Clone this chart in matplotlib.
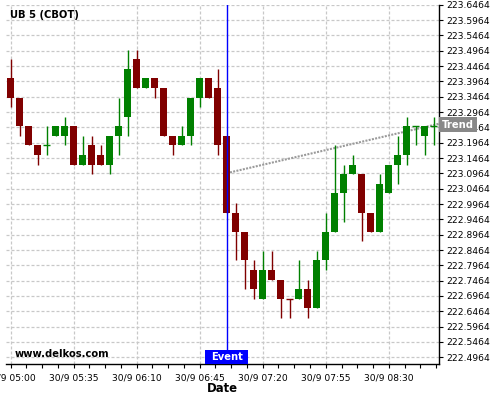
import matplotlib
matplotlib.use("Agg")
import matplotlib.pyplot as plt
import matplotlib.transforms as mtransforms
from matplotlib.patches import Rectangle

# ---------------- data ----------------
title = "UB 5 (CBOT)"
watermark = "www.delkos.com"
bar_minutes = 5          # candle interval, minutes after 30/9 05:00

opens = [223.40625, 223.34375, 223.25, 223.1875, 223.1875, 223.21875, 223.21875, 223.25,
         223.125, 223.1875, 223.15625, 223.125, 223.21875, 223.28125, 223.46875, 223.375,
         223.40625, 223.375, 223.21875, 223.1875, 223.21875, 223.34375, 223.40625, 223.375,
         223.21875, 222.96875, 222.90625, 222.78125, 222.6875, 222.78125, 222.75, 222.6875,
         222.6875, 222.71875, 222.65625, 222.8125, 222.90625, 223.03125, 223.09375, 223.09375,
         222.96875, 222.90625, 223.03125, 223.125, 223.15625, 223.25, 223.21875, 223.25]
highs = [223.46875, 223.34375, 223.25, 223.1875, 223.25, 223.25, 223.28125, 223.25,
         223.21875, 223.21875, 223.1875, 223.21875, 223.34375, 223.5, 223.5, 223.40625,
         223.40625, 223.375, 223.21875, 223.25, 223.34375, 223.40625, 223.40625, 223.4375,
         223.21875, 223.0, 222.90625, 222.8125, 222.84375, 222.84375, 222.75, 222.6875,
         222.8125, 222.75, 222.84375, 222.96875, 223.1875, 223.125, 223.15625, 223.09375,
         222.96875, 223.09375, 223.125, 223.21875, 223.28125, 223.25, 223.25, 223.28125]
lows = [223.3125, 223.21875, 223.1875, 223.125, 223.15625, 223.21875, 223.1875, 223.125,
        223.125, 223.09375, 223.125, 223.09375, 223.15625, 223.21875, 223.375, 223.375,
        223.34375, 223.21875, 223.15625, 223.1875, 223.1875, 223.3125, 223.34375, 223.15625,
        222.96875, 222.8125, 222.71875, 222.6875, 222.6875, 222.75, 222.625, 222.625,
        222.6875, 222.625, 222.65625, 222.78125, 222.90625, 222.9375, 223.09375, 222.875,
        222.90625, 222.90625, 223.03125, 223.0625, 223.125, 223.1875, 223.15625, 223.1875]
closes = [223.34375, 223.25, 223.1875, 223.15625, 223.1875, 223.25, 223.25, 223.125,
          223.15625, 223.125, 223.125, 223.21875, 223.25, 223.4375, 223.375, 223.40625,
          223.375, 223.21875, 223.1875, 223.21875, 223.34375, 223.40625, 223.34375, 223.1875,
          222.96875, 222.90625, 222.8125, 222.71875, 222.78125, 222.75, 222.6875, 222.6875,
          222.71875, 222.65625, 222.8125, 222.90625, 223.03125, 223.09375, 223.125, 222.96875,
          222.90625, 223.0625, 223.125, 223.15625, 223.25, 223.25, 223.25, 223.25]
bearish_doji = [31]      # doji candles drawn in the "down" colour

event_minute = 120       # 07:00
event_label = "Event"
trend_label = "Trend"
trend_minutes = [120, 237.9]
trend_prices = [223.0971, 223.2583]

x_tick_minutes = [0, 35, 70, 105, 140, 175, 210]
x_tick_labels = ["30/9 05:00", "30/9 05:35", "30/9 06:10", "30/9 06:45",
                 "30/9 07:20", "30/9 07:55", "30/9 08:30"]
y_ticks = [223.6464, 223.5964, 223.5464, 223.4964, 223.4464, 223.3964, 223.3464, 223.2964,
           223.2464, 223.1964, 223.1464, 223.0964, 223.0464, 222.9964, 222.9464, 222.8964,
           222.8464, 222.7964, 222.7464, 222.6964, 222.6464, 222.5964, 222.5464, 222.4964]
x_label = "Date"

# ---------------- figure ----------------
W, H = 500, 400
fig = plt.figure(figsize=(W / 100, H / 100), dpi=100)
ax_l, ax_r, ax_t, ax_b = 6, 439, 4.7, 364
ax = fig.add_axes([ax_l / W, 1 - ax_b / H, (ax_r - ax_l) / W, (ax_b - ax_t) / H])

UP, DOWN = "#008000", "#800000"
body_w = 3.9

ax.plot(trend_minutes, trend_prices, color="#9a9a9a", lw=1.5,
        linestyle=(0, (0.96, 0.63)), zorder=2, solid_capstyle="butt")

for i, (o, h, l, c) in enumerate(zip(opens, highs, lows, closes)):
    t = i * bar_minutes
    up = c > o or (c == o and i not in bearish_doji)
    col = UP if up else DOWN
    if h > l:
        ax.vlines(t, l, h, color=col, lw=1.0, zorder=3)
    if c != o:
        ax.bar(t, abs(c - o), bottom=min(o, c), width=body_w, color=col, lw=0, zorder=3)
    else:
        ax.hlines(o, t - body_w / 2, t + body_w / 2, color=col, lw=1.0, zorder=3)

# event marker
ax.axvline(event_minute, color="#0000ff", lw=1.0, zorder=4)
blend = mtransforms.blended_transform_factory(ax.transData, ax.transAxes)
box_h = 14 / (ax_b - ax_t)
ax.add_patch(Rectangle((event_minute - 11.95, 0), 23.9, box_h, transform=blend,
                       facecolor="#0000ff", edgecolor="none", zorder=5, clip_on=False))
ax.text(event_minute, box_h / 2, event_label, transform=blend, color="white",
        fontsize=7.2, fontweight="bold", ha="center", va="center", zorder=6)

ax.set_xlim(-2.6, 237.9)
ax.set_ylim(222.4745, 223.6467)

ax.set_xticks(x_tick_minutes)
ax.set_xticklabels(x_tick_labels)
ax.set_xticks([k * 8.75 for k in range(28)], minor=True)
ax.set_yticks(y_ticks)
ax.set_yticklabels([f"{v:.4f}" for v in y_ticks])
ax.yaxis.tick_right()

for s in ("left", "top"):
    ax.spines[s].set_visible(False)
for s in ("right", "bottom"):
    ax.spines[s].set_color("black")
    ax.spines[s].set_linewidth(1.0)

ax.tick_params(axis="x", which="both", direction="out", length=3, width=0.8,
               labelsize=6.6, pad=3.5, colors="black")
ax.tick_params(axis="y", which="both", direction="out", length=3, width=0.8,
               labelsize=6.6, pad=2, colors="black")

ax.set_axisbelow(True)
ax.grid(True, which="major", color="#c8c8c8", lw=0.9, linestyle=(0, (2.4, 1.6)))

# texts
fig.text(10 / W, 1 - 15.5 / H, title, fontsize=7.2, fontweight="bold", ha="left", va="center")
fig.text(15 / W, 1 - 354 / H, watermark, fontsize=7.2, fontweight="bold", ha="left", va="center")
fig.text(222.5 / W, 1 - 389 / H, x_label, fontsize=8.4, fontweight="bold", ha="center", va="center")

# trend tag at right
trend_y_px = 124.7
fig.patches.append(Rectangle((439 / W, 1 - 132 / H), 38 / W, 15 / H, transform=fig.transFigure,
                             facecolor="#888888", edgecolor="none", zorder=5))
fig.text(458 / W, 1 - trend_y_px / H, trend_label, color="white", fontsize=7.2,
         fontweight="bold", ha="center", va="center", zorder=6)

fig.savefig("out.png", dpi=100)
